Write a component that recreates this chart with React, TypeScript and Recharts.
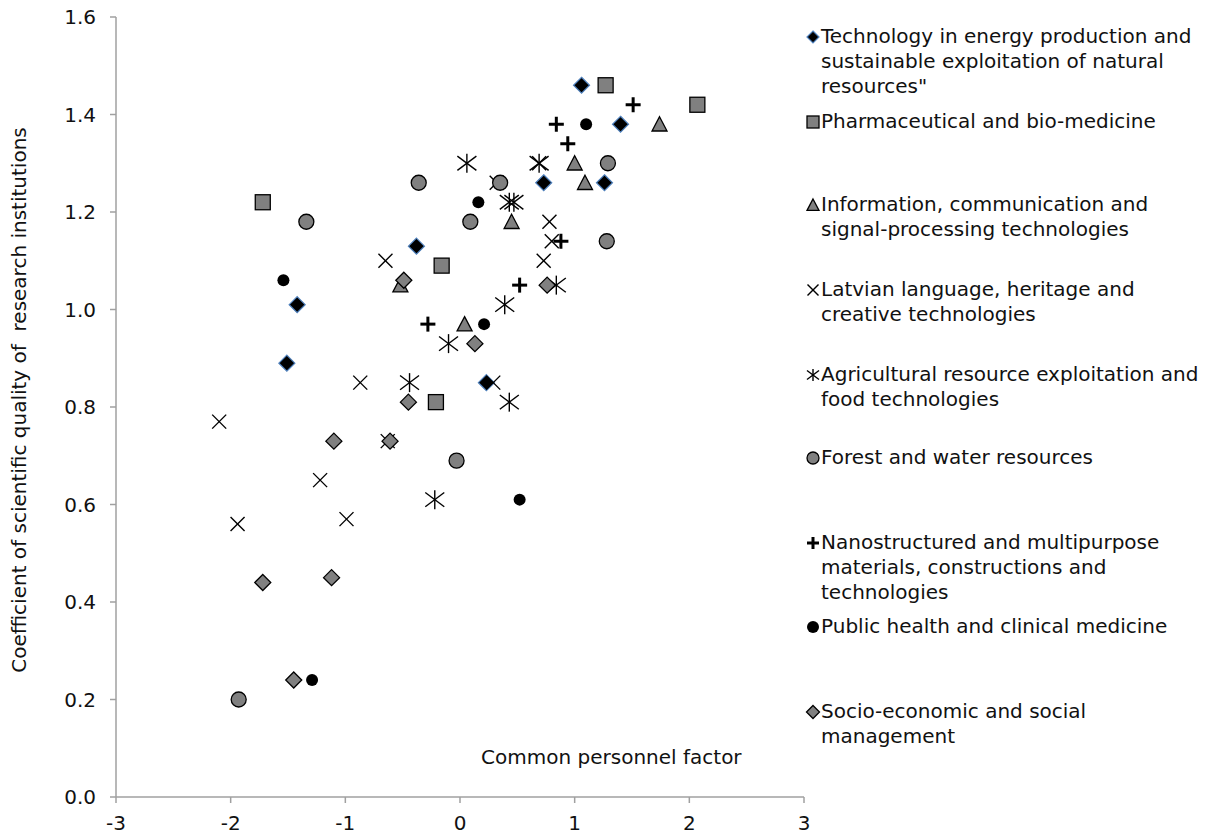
import React from "react";
import { ScatterChart, Scatter, XAxis, YAxis, Label } from "recharts";

type Pt = { x: number; y: number };

const techEnergy: Pt[] = [
  { x: -1.42, y: 1.01 }, { x: -0.38, y: 1.13 }, { x: -1.51, y: 0.89 }, { x: 1.06, y: 1.46 },
  { x: 1.4, y: 1.38 }, { x: 0.73, y: 1.26 }, { x: 1.26, y: 1.26 }, { x: 0.23, y: 0.85 },
];
const pharma: Pt[] = [
  { x: -1.72, y: 1.22 }, { x: -0.16, y: 1.09 }, { x: 1.27, y: 1.46 }, { x: 2.07, y: 1.42 }, { x: -0.21, y: 0.81 },
];
const infoComm: Pt[] = [
  { x: -0.52, y: 1.05 }, { x: 1.74, y: 1.38 }, { x: 1.0, y: 1.3 }, { x: 1.09, y: 1.26 }, { x: 0.45, y: 1.18 }, { x: 0.04, y: 0.97 },
];
const latvian: Pt[] = [
  { x: -0.65, y: 1.1 }, { x: 0.32, y: 1.26 }, { x: 0.78, y: 1.18 }, { x: 0.73, y: 1.1 }, { x: -0.87, y: 0.85 },
  { x: 0.29, y: 0.85 }, { x: -2.1, y: 0.77 }, { x: -0.63, y: 0.73 }, { x: -1.22, y: 0.65 }, { x: -1.94, y: 0.56 },
  { x: -0.99, y: 0.57 }, { x: 0.69, y: 1.3 }, { x: 0.8, y: 1.14 },
];
const agricultural: Pt[] = [
  { x: 0.06, y: 1.3 }, { x: 0.69, y: 1.3 }, { x: 0.43, y: 1.22 }, { x: 0.47, y: 1.22 }, { x: 0.84, y: 1.05 },
  { x: 0.39, y: 1.01 }, { x: -0.1, y: 0.93 }, { x: -0.44, y: 0.85 }, { x: 0.43, y: 0.81 }, { x: -0.22, y: 0.61 },
];
const forest: Pt[] = [
  { x: -1.34, y: 1.18 }, { x: -0.36, y: 1.26 }, { x: 0.35, y: 1.26 }, { x: 1.29, y: 1.3 }, { x: 0.09, y: 1.18 },
  { x: 1.28, y: 1.14 }, { x: -0.03, y: 0.69 }, { x: -1.93, y: 0.2 },
];
const nano: Pt[] = [
  { x: -0.28, y: 0.97 }, { x: 1.51, y: 1.42 }, { x: 0.84, y: 1.38 }, { x: 0.94, y: 1.34 }, { x: 0.52, y: 1.05 }, { x: 0.88, y: 1.14 },
];
const publicHealth: Pt[] = [
  { x: -1.54, y: 1.06 }, { x: 1.1, y: 1.38 }, { x: 0.16, y: 1.22 }, { x: 0.21, y: 0.97 }, { x: 0.52, y: 0.61 }, { x: -1.29, y: 0.24 },
];
const socio: Pt[] = [
  { x: -0.49, y: 1.06 }, { x: -0.45, y: 0.81 }, { x: -1.1, y: 0.73 }, { x: -0.61, y: 0.73 }, { x: 0.13, y: 0.93 },
  { x: 0.76, y: 1.05 }, { x: -1.72, y: 0.44 }, { x: -1.12, y: 0.45 }, { x: -1.45, y: 0.24 },
];

const xTicks = [-3, -2, -1, 0, 1, 2, 3];
const yTicks = [0, 0.2, 0.4, 0.6, 0.8, 1.0, 1.2, 1.4, 1.6];

const xTitle = "Common personnel factor";
const yTitle = "Coefficient of scientific quality of  research institutions";

type Kind = "techDiamond" | "square" | "triangle" | "x" | "asterisk" | "circle" | "plus" | "dot" | "grayDiamond";

const FONT = "'DejaVu Sans', Verdana, sans-serif";
const GRAY = "#808080";

function marker(kind: Kind, cx: number, cy: number, s: number) {
  const h = s / 2;
  switch (kind) {
    case "techDiamond":
      return <path d={`M${cx},${cy - h}L${cx + h},${cy}L${cx},${cy + h}L${cx - h},${cy}Z`} fill="#000" stroke="#4F81BD" strokeWidth={1.2} />;
    case "grayDiamond":
      return <path d={`M${cx},${cy - h}L${cx + h},${cy}L${cx},${cy + h}L${cx - h},${cy}Z`} fill={GRAY} stroke="#000" strokeWidth={1.3} />;
    case "square":
      return <rect x={cx - h} y={cy - h} width={s} height={s} fill={GRAY} stroke="#000" strokeWidth={1.3} />;
    case "triangle":
      return <path d={`M${cx},${cy - h}L${cx + h},${cy + h * 0.9}L${cx - h},${cy + h * 0.9}Z`} fill={GRAY} stroke="#000" strokeWidth={1.3} />;
    case "circle":
      return <circle cx={cx} cy={cy} r={h} fill={GRAY} stroke="#000" strokeWidth={1.3} />;
    case "dot":
      return <circle cx={cx} cy={cy} r={h} fill="#000" />;
    case "x":
      return (
        <g stroke="#000" strokeWidth={1.4}>
          <line x1={cx - h} y1={cy - h} x2={cx + h} y2={cy + h} />
          <line x1={cx - h} y1={cy + h} x2={cx + h} y2={cy - h} />
        </g>
      );
    case "asterisk":
      return (
        <g stroke="#000" strokeWidth={1.4}>
          <line x1={cx - h} y1={cy - h * 0.75} x2={cx + h} y2={cy + h * 0.75} />
          <line x1={cx - h} y1={cy + h * 0.75} x2={cx + h} y2={cy - h * 0.75} />
          <line x1={cx} y1={cy - h} x2={cx} y2={cy + h} />
        </g>
      );
    case "plus":
      return (
        <g stroke="#000" strokeWidth={3}>
          <line x1={cx - h} y1={cy} x2={cx + h} y2={cy} />
          <line x1={cx} y1={cy - h} x2={cx} y2={cy + h} />
        </g>
      );
  }
  return null;
}

type Series = { name: string; lines: string[]; data: Pt[]; kind: Kind; size: number; legendSize: number; top: number };

const series: Series[] = [
  { name: "tech", lines: ["Technology in energy production and", "sustainable exploitation of natural", 'resources"'], data: techEnergy, kind: "techDiamond", size: 16, legendSize: 12, top: 24 },
  { name: "pharma", lines: ["Pharmaceutical and bio-medicine"], data: pharma, kind: "square", size: 15, legendSize: 12, top: 109 },
  { name: "info", lines: ["Information, communication and", "signal-processing technologies"], data: infoComm, kind: "triangle", size: 15, legendSize: 12, top: 192 },
  { name: "latvian", lines: ["Latvian language, heritage and", "creative technologies"], data: latvian, kind: "x", size: 14, legendSize: 11, top: 277 },
  { name: "agri", lines: ["Agricultural resource exploitation and", "food technologies"], data: agricultural, kind: "asterisk", size: 19, legendSize: 12, top: 362 },
  { name: "forest", lines: ["Forest and water resources"], data: forest, kind: "circle", size: 15, legendSize: 12, top: 445 },
  { name: "nano", lines: ["Nanostructured and multipurpose", "materials, constructions and", "technologies"], data: nano, kind: "plus", size: 15, legendSize: 12, top: 530 },
  { name: "public", lines: ["Public health and clinical medicine"], data: publicHealth, kind: "dot", size: 12, legendSize: 12, top: 614 },
  { name: "socio", lines: ["Socio-economic and social", "management"], data: socio, kind: "grayDiamond", size: 16, legendSize: 13, top: 699 },
];

const W = 1217;
const H = 836;

export default function App() {
  return (
    <div style={{ position: "absolute", left: 0, top: 0, width: W, height: H, background: "#fff", fontFamily: FONT }}>
      <ScatterChart width={W} height={H} margin={{ top: 17, right: 413, bottom: 0, left: 56 }}>
        <XAxis
          type="number"
          dataKey="x"
          domain={[-3, 3]}
          ticks={xTicks}
          interval={0}
          height={39}
          stroke="#A0A0A0"
          strokeWidth={1.5}
          tickSize={6}
          tickMargin={13}
          tick={{ fill: "#111", fontSize: 20, fontFamily: FONT }}
        >
          <Label
            content={(p: any) => {
              const vb = p.viewBox || {};
              return (
                <text x={vb.x + vb.width * 0.72} y={vb.y - 33} textAnchor="middle" fontSize={20} fontFamily={FONT} fill="#111">
                  {xTitle}
                </text>
              );
            }}
          />
        </XAxis>
        <YAxis
          type="number"
          dataKey="y"
          domain={[0, 1.6]}
          ticks={yTicks}
          interval={0}
          width={60}
          stroke="#A0A0A0"
          strokeWidth={1.5}
          tickSize={6}
          tickMargin={14}
          tickFormatter={(v: number) => v.toFixed(1)}
          tick={{ fill: "#111", fontSize: 20, fontFamily: FONT }}
        >
          <Label
            content={(p: any) => {
              const vb = p.viewBox || {};
              const cx = vb.x - 37;
              const cy = vb.y + vb.height / 2 - 7;
              return (
                <text x={cx} y={cy} transform={`rotate(-90, ${cx}, ${cy})`} textAnchor="middle" dominantBaseline="central" fontSize={20} fontFamily={FONT} fill="#111" style={{ whiteSpace: "pre" }}>
                  {yTitle}
                </text>
              );
            }}
          />
        </YAxis>
        {series.map((s) => (
          <Scatter
            key={s.name}
            name={s.name}
            data={s.data}
            isAnimationActive={false}
            shape={(props: any) => marker(s.kind, props.cx, props.cy, s.size)}
          />
        ))}
      </ScatterChart>
      <div style={{ position: "absolute", left: 805, top: 0, width: 412, height: H }}>
        {series.map((s) => (
          <div key={s.name} style={{ position: "absolute", left: 0, top: s.top, width: 412 }}>
            <svg width={16} height={25} style={{ position: "absolute", left: 0, top: 0 }}>
              {marker(s.kind, 8, 13, s.legendSize)}
            </svg>
            <div style={{ marginLeft: 16, fontSize: 20, lineHeight: "25px", color: "#111", whiteSpace: "nowrap" }}>
              {s.lines.map((l, i) => (
                <div key={i}>{l}</div>
              ))}
            </div>
          </div>
        ))}
      </div>
    </div>
  );
}
